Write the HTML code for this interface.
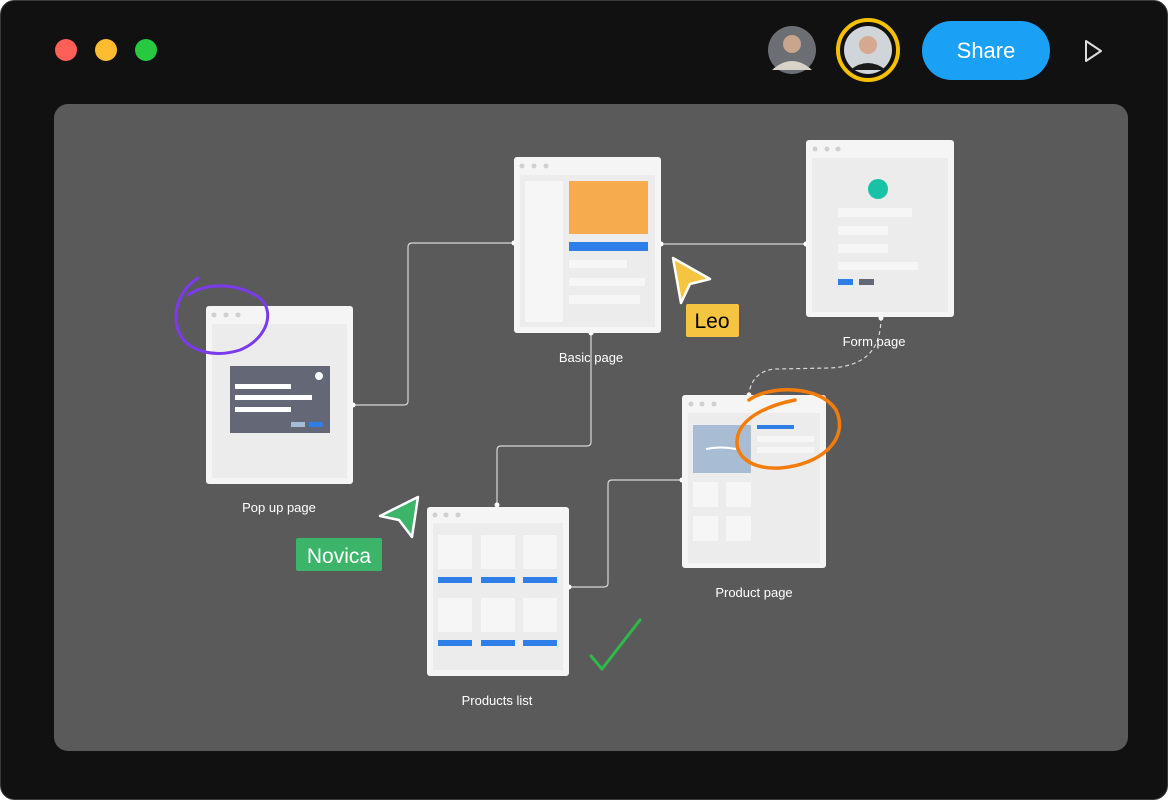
<!DOCTYPE html>
<html><head><meta charset="utf-8"><style>
html,body{margin:0;padding:0;background:#fff;}
body{width:1168px;height:800px;overflow:hidden;font-family:"Liberation Sans",sans-serif;}
</style></head><body>
<svg width="1168" height="800" viewBox="0 0 1168 800" xmlns="http://www.w3.org/2000/svg" font-family="Liberation Sans, sans-serif">
<rect x="0.5" y="0.5" width="1167" height="799" rx="14" fill="#111" stroke="#3a3a3a"/>
<circle cx="66" cy="50" r="11" fill="#fe5f57"/>
<circle cx="106" cy="50" r="11" fill="#febc2e"/>
<circle cx="146" cy="50" r="11" fill="#28c840"/>
<circle cx="792" cy="50" r="24" fill="#6b6f74"/>
<circle cx="792" cy="44" r="9" fill="#c9a58e"/>
<path d="M772 70 Q792 52 812 70 Z" fill="#d9d2c8"/>
<circle cx="868" cy="50" r="30" fill="none" stroke="#f6c000" stroke-width="4"/>
<circle cx="868" cy="50" r="24" fill="#cfd5d8"/>
<circle cx="868" cy="45" r="9" fill="#d7a890"/>
<path d="M850 70 Q868 56 886 70 Z" fill="#1a1a1a"/>
<rect x="922" y="21" width="128" height="59" rx="29.5" fill="#1aa0f5"/>
<text x="986" y="58" font-size="22" fill="#fff" text-anchor="middle">Share</text>
<path d="M1086 41 L1101 51 L1086 61 Z" fill="none" stroke="#ddd" stroke-width="2" stroke-linejoin="round"/>
<rect x="54" y="104" width="1074" height="647" rx="14" fill="#5a5a5a"/>

<g fill="none" stroke="#d8d8d8" stroke-width="1.2">
<path d="M353 405 H404 Q408 405 408 401 V247 Q408 243 412 243 H514"/>
<path d="M661 244 H806"/>
<path d="M591 333 V442 Q591 446 587 446 H501 Q497 446 497 450 V507"/>
<path d="M569 587 H604 Q608 587 608 583 V484 Q608 480 612 480 H682"/>
<path d="M881 317 C881 345 870 366 830 368 L775 369 C760 370 750 380 749 395" stroke-dasharray="4 3"/>
</g>
<g fill="#fff">
<circle cx="353" cy="405" r="2.5"/><circle cx="514" cy="243" r="2.5"/><circle cx="661" cy="244" r="2.5"/><circle cx="806" cy="244" r="2.5"/>
<circle cx="591" cy="333" r="2.5"/><circle cx="497" cy="505" r="2.5"/><circle cx="569" cy="587" r="2.5"/><circle cx="682" cy="480" r="2.5"/>
<circle cx="881" cy="318" r="2.5"/><circle cx="749" cy="395" r="2.5"/>
</g>

<!-- Basic page -->
<rect x="514" y="157" width="147" height="176" rx="3" fill="#f5f5f5"/>
<g fill="#d0d0d0"><circle cx="522" cy="166" r="2.5"/><circle cx="534" cy="166" r="2.5"/><circle cx="546" cy="166" r="2.5"/></g>
<rect x="520" y="175" width="135" height="152" fill="#ececec"/>
<rect x="525" y="181" width="38" height="141" fill="#f6f6f6"/>
<rect x="569" y="181" width="79" height="53" fill="#f6ab4e"/>
<rect x="569" y="242" width="79" height="9" fill="#2f7ee8"/>
<rect x="569" y="260" width="58" height="8" fill="#f6f6f6"/>
<rect x="569" y="278" width="76" height="8" fill="#f6f6f6"/>
<rect x="569" y="295" width="71" height="9" fill="#f6f6f6"/>
<text x="591" y="362" font-size="13" fill="#fff" text-anchor="middle">Basic page</text>

<!-- Form page -->
<rect x="806" y="140" width="148" height="177" rx="3" fill="#f5f5f5"/>
<g fill="#d0d0d0"><circle cx="815" cy="149" r="2.5"/><circle cx="827" cy="149" r="2.5"/><circle cx="838" cy="149" r="2.5"/></g>
<rect x="812" y="158" width="136" height="154" fill="#ececec"/>
<circle cx="878" cy="189" r="10" fill="#19c2a6"/>
<rect x="838" y="208" width="74" height="9" fill="#f6f6f6"/>
<rect x="838" y="226" width="50" height="9" fill="#f6f6f6"/>
<rect x="838" y="244" width="50" height="9" fill="#f6f6f6"/>
<rect x="838" y="262" width="80" height="8" fill="#f6f6f6"/>
<rect x="838" y="279" width="15" height="6" fill="#2f7ee8"/>
<rect x="859" y="279" width="15" height="6" fill="#636776"/>
<text x="874" y="346" font-size="13" fill="#fff" text-anchor="middle">Form page</text>

<!-- Pop up -->
<rect x="206" y="306" width="147" height="178" rx="3" fill="#f5f5f5"/>
<g fill="#d0d0d0"><circle cx="214" cy="315" r="2.5"/><circle cx="226" cy="315" r="2.5"/><circle cx="238" cy="315" r="2.5"/></g>
<rect x="212" y="324" width="135" height="154" fill="#ececec"/>
<rect x="230" y="366" width="100" height="67" fill="#636776"/>
<circle cx="319" cy="376" r="4" fill="#fff"/>
<rect x="235" y="384" width="56" height="5" fill="#fff"/>
<rect x="235" y="395" width="77" height="5" fill="#fff"/>
<rect x="235" y="407" width="56" height="5" fill="#fff"/>
<rect x="291" y="422" width="14" height="5" fill="#a5bcd6"/>
<rect x="309" y="422" width="14" height="5" fill="#2f7ee8"/>
<text x="279" y="512" font-size="13" fill="#fff" text-anchor="middle">Pop up page</text>

<!-- Products list -->
<rect x="427" y="507" width="142" height="169" rx="3" fill="#f5f5f5"/>
<g fill="#d0d0d0"><circle cx="435" cy="515" r="2.5"/><circle cx="446" cy="515" r="2.5"/><circle cx="458" cy="515" r="2.5"/></g>
<rect x="433" y="523" width="130" height="147" fill="#ececec"/>
<g fill="#f6f6f6">
<rect x="438" y="535" width="34" height="34"/><rect x="481" y="535" width="34" height="34"/><rect x="523" y="535" width="34" height="34"/>
<rect x="438" y="598" width="34" height="34"/><rect x="481" y="598" width="34" height="34"/><rect x="523" y="598" width="34" height="34"/>
</g>
<g fill="#2f7ee8">
<rect x="438" y="577" width="34" height="6"/><rect x="481" y="577" width="34" height="6"/><rect x="523" y="577" width="34" height="6"/>
<rect x="438" y="640" width="34" height="6"/><rect x="481" y="640" width="34" height="6"/><rect x="523" y="640" width="34" height="6"/>
</g>
<text x="497" y="705" font-size="13" fill="#fff" text-anchor="middle">Products list</text>

<!-- Product page -->
<rect x="682" y="395" width="144" height="173" rx="3" fill="#f5f5f5"/>
<g fill="#d0d0d0"><circle cx="691" cy="404" r="2.5"/><circle cx="702" cy="404" r="2.5"/><circle cx="714" cy="404" r="2.5"/></g>
<rect x="688" y="413" width="132" height="150" fill="#ececec"/>
<rect x="693" y="425" width="58" height="48" fill="#a8bdd4"/>
<path d="M706 449 Q720 446 736 449" stroke="#fff" stroke-width="2" fill="none"/>
<rect x="757" y="425" width="37" height="4" fill="#2f7ee8"/>
<rect x="757" y="436" width="57" height="6" fill="#f6f6f6"/>
<rect x="757" y="447" width="57" height="6" fill="#f6f6f6"/>
<g fill="#f6f6f6">
<rect x="693" y="482" width="25" height="25"/><rect x="726" y="482" width="25" height="25"/>
<rect x="693" y="516" width="25" height="25"/><rect x="726" y="516" width="25" height="25"/>
</g>
<text x="754" y="597" font-size="13" fill="#fff" text-anchor="middle">Product page</text>

<!-- annotations -->
<path d="M198 278 C180 290 172 310 178 330 C186 352 215 358 240 350 C265 340 275 315 262 300 C245 285 210 280 188 295" fill="none" stroke="#7c3aed" stroke-width="3" stroke-linecap="round"/>
<path d="M749 400 C770 385 820 385 836 410 C850 440 820 465 780 468 C745 470 730 450 740 430 C748 415 770 405 795 400" fill="none" stroke="#f47c0a" stroke-width="3.5" stroke-linecap="round"/>
<path d="M591 656 L602 669 L640 620" fill="none" stroke="#2fb94a" stroke-width="3" stroke-linecap="round" stroke-linejoin="round"/>

<!-- Leo cursor -->
<path d="M673 258 L710 279 L690 284 L681 303 Z" fill="#f5c542" stroke="#fff" stroke-width="2.5" stroke-linejoin="round"/>
<rect x="686" y="304" width="53" height="33" rx="2" fill="#f5c542"/>
<text x="712" y="328" font-size="21" fill="#000" text-anchor="middle">Leo</text>
<!-- Novica cursor -->
<path d="M380 516 L418 497 L412 537 L399 520 Z" fill="#3cb46a" stroke="#fff" stroke-width="2.5" stroke-linejoin="round"/>
<rect x="296" y="538" width="86" height="33" rx="2" fill="#3cb46a"/>
<text x="339" y="563" font-size="21" fill="#fff" text-anchor="middle">Novica</text>
</svg>
</body></html>
